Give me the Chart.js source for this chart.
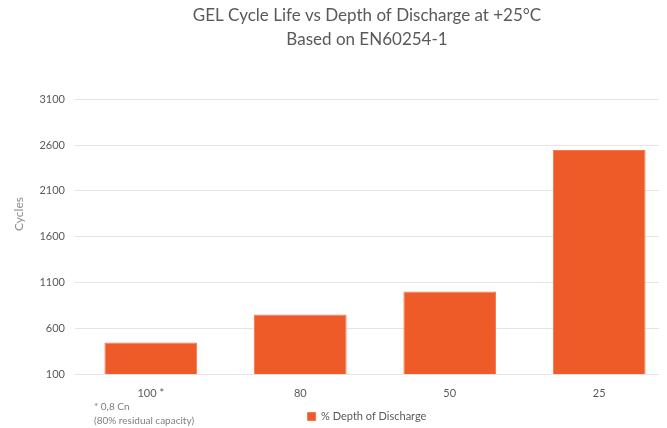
<!DOCTYPE html>
<html>
<head>
<meta charset="utf-8">
<script src="https://cdn.jsdelivr.net/npm/chart.js@4/dist/chart.umd.min.js"></script>
<style>
	html, body { margin: 0; padding: 0; background: #fff; }
	#wrap { width: 667px; height: 428px; }
</style>
</head>
<body>
<div id="wrap"><canvas id="js_chart_canvas"></canvas></div>
<script>

// Chart data
let categories = [ "100 *", "80", "50", "25" ]
let cycles = [ 445, 750, 1000, 2545 ]
let yTicks = [ 100, 600, 1100, 1600, 2100, 2600, 3100 ]
let seriesName = "% Depth of Discharge"
let titleLines = [ "GEL Cycle Life vs Depth of Discharge at +25°C", "Based on EN60254-1" ]
let axisTitle = "Cycles"
let footnote = [ "* 0,8 Cn", "(80% residual capacity)" ]

let fontFamily = "Lato, 'Open Sans', sans-serif"
let textGrey = "#595959"

// Draws the rotated axis title and the footnote
let extrasPlugin = {
	id: "extras",
	afterDraw ( chart ) {
		let ctx = chart.ctx
		ctx.save()
		ctx.fillStyle = "#8c8c8c"
		ctx.font = "12px " + fontFamily
		ctx.textAlign = "center"
		ctx.textBaseline = "middle"
		ctx.translate( 19, 214 )
		ctx.rotate( -Math.PI / 2 )
		ctx.fillText( axisTitle, 0, 0 )
		ctx.restore()

		ctx.save()
		ctx.fillStyle = "#7f7f7f"
		ctx.font = "10px " + fontFamily
		ctx.textAlign = "left"
		ctx.textBaseline = "middle"
		footnote.forEach( function ( line, i ) {
			ctx.fillText( line, 94, 407 + i * 14 )
		} )
		ctx.restore()
	}
}

let canvasElement = document.getElementById( "js_chart_canvas" )
let chart = new Chart( canvasElement, {
	type: "bar",
	data: {
		datasets: [ {
			label: seriesName,
			data: cycles.map( ( v, i ) => ( { x: i, y: v } ) ),
			backgroundColor: "#EF5A29",
			borderColor: "#F3784C",
			borderWidth: 1,
			barPercentage: 0.62,
			categoryPercentage: 1
		} ]
	},
	options: {
		responsive: true,
		maintainAspectRatio: false,
		animation: false,
		// negative bottom padding nudges the legend down to where the original has it
		layout: { padding: { left: 0, right: 8, top: 0, bottom: -4 } },
		scales: {
			x: {
				type: "linear",
				offset: false,
				min: -0.507,
				max: 3.4,
				grid: { display: false },
				border: { display: false },
				afterBuildTicks: function ( scale ) {
					scale.ticks = categories.map( ( c, i ) => ( { value: i } ) )
				},
				afterFit: function ( scale ) {
					scale.height = 32
				},
				ticks: {
					color: textGrey,
					font: { family: fontFamily, size: 11 },
					padding: 5,
					maxRotation: 0,
					autoSkip: false,
					callback: function ( value ) {
						return categories[ value ]
					}
				}
			},
			y: {
				min: yTicks[ 0 ],
				max: yTicks[ yTicks.length - 1 ],
				afterBuildTicks: function ( scale ) {
					scale.ticks = yTicks.map( v => ( { value: v } ) )
				},
				afterFit: function ( scale ) {
					scale.width = 75
				},
				grid: { color: "#e8e3e1", drawTicks: false },
				border: { display: false },
				ticks: {
					color: textGrey,
					font: { family: fontFamily, size: 11 },
					padding: 10,
					callback: function ( value ) {
						return String( value )
					}
				}
			}
		},
		plugins: {
			title: {
				display: true,
				text: titleLines,
				fullSize: false,
				color: textGrey,
				font: { family: fontFamily, size: 17, weight: "normal", lineHeight: 1.45 },
				padding: { top: 3, bottom: 47 }
			},
			legend: {
				display: true,
				position: "bottom",
				fullSize: false,
				labels: {
					color: textGrey,
					font: { family: fontFamily, size: 11 },
					boxWidth: 8,
					boxHeight: 8,
					padding: 5
				}
			},
			tooltip: { enabled: false }
		}
	},
	plugins: [ extrasPlugin ]
} )

</script>
</body>
</html>
